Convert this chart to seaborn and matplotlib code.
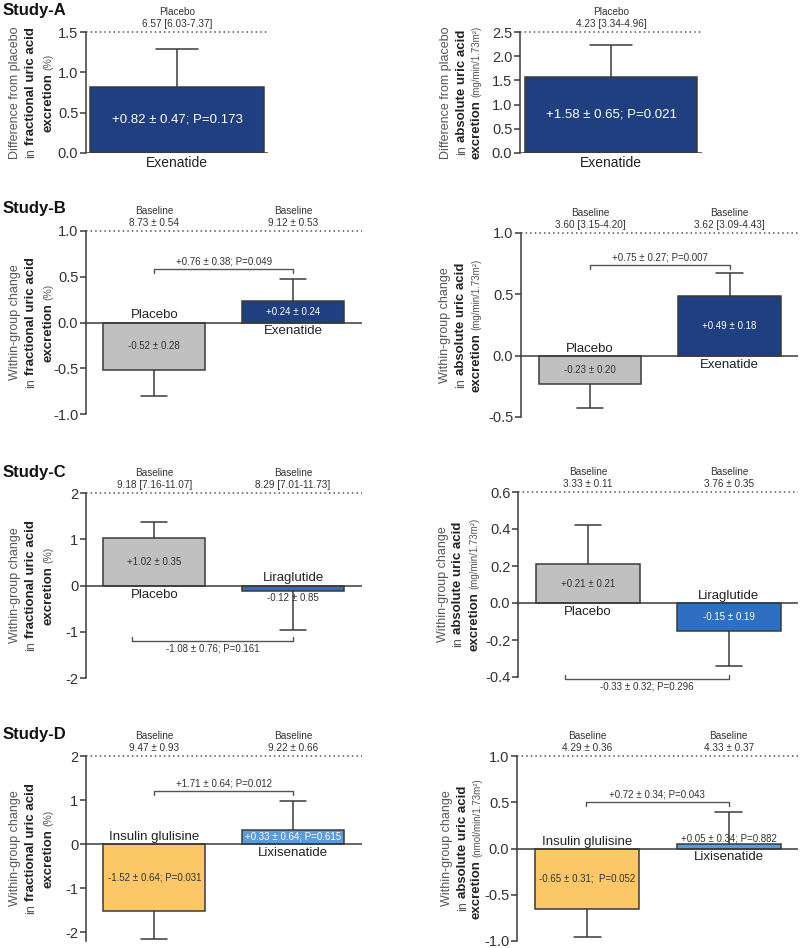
import matplotlib
matplotlib.use("Agg")
import matplotlib.pyplot as plt
import seaborn as sns
import pandas as pd

# ---------------- data ----------------
study_titles = ["Study-A", "Study-B", "Study-C", "Study-D"]

a_cats = ["Exenatide"]
a_frac_vals = [0.82]
a_frac_se = [0.47]
a_frac_head = ["Placebo\n6.57 [6.03-7.37]"]
a_frac_text = ["+0.82 ± 0.47; P=0.173"]
a_abs_vals = [1.58]
a_abs_se = [0.65]
a_abs_head = ["Placebo\n4.23 [3.34-4.96]"]
a_abs_text = ["+1.58 ± 0.65; P=0.021"]

b_cats = ["Placebo", "Exenatide"]
b_frac_vals = [-0.52, 0.24]
b_frac_se = [0.28, 0.24]
b_frac_head = ["Baseline\n8.73 ± 0.54", "Baseline\n9.12 ± 0.53"]
b_frac_text = ["-0.52 ± 0.28", "+0.24 ± 0.24"]
b_frac_diff = "+0.76 ± 0.38; P=0.049"
b_abs_vals = [-0.23, 0.49]
b_abs_se = [0.20, 0.18]
b_abs_head = ["Baseline\n3.60 [3.15-4.20]", "Baseline\n3.62 [3.09-4.43]"]
b_abs_text = ["-0.23 ± 0.20", "+0.49 ± 0.18"]
b_abs_diff = "+0.75 ± 0.27; P=0.007"

c_cats = ["Placebo", "Liraglutide"]
c_frac_vals = [1.02, -0.12]
c_frac_se = [0.35, 0.85]
c_frac_head = ["Baseline\n9.18 [7.16-11.07]", "Baseline\n8.29 [7.01-11.73]"]
c_frac_text = ["+1.02 ± 0.35", "-0.12 ± 0.85"]
c_frac_diff = "-1.08 ± 0.76; P=0.161"
c_abs_vals = [0.21, -0.15]
c_abs_se = [0.21, 0.19]
c_abs_head = ["Baseline\n3.33 ± 0.11", "Baseline\n3.76 ± 0.35"]
c_abs_text = ["+0.21 ± 0.21", "-0.15 ± 0.19"]
c_abs_diff = "-0.33 ± 0.32; P=0.296"

d_cats = ["Insulin glulisine", "Lixisenatide"]
d_frac_vals = [-1.52, 0.33]
d_frac_se = [0.64, 0.64]
d_frac_head = ["Baseline\n9.47 ± 0.93", "Baseline\n9.22 ± 0.66"]
d_frac_text = ["-1.52 ± 0.64; P=0.031", "+0.33 ± 0.64; P=0.615"]
d_frac_diff = "+1.71 ± 0.64; P=0.012"
d_abs_vals = [-0.65, 0.05]
d_abs_se = [0.31, 0.34]
d_abs_head = ["Baseline\n4.29 ± 0.36", "Baseline\n4.33 ± 0.37"]
d_abs_text = ["-0.65 ± 0.31;  P=0.052", "+0.05 ± 0.34; P=0.882"]
d_abs_diff = "+0.72 ± 0.34; P=0.043"

ylab_frac_diff = [[("Difference from placebo", "normal", 9)],
                  [("in", "normal", 9), ("fractional uric acid", "bold", 9.5)],
                  [("excretion", "bold", 9.5), ("(%)", "normal", 7.5)]]
ylab_abs_diff = [[("Difference from placebo", "normal", 9)],
                 [("in", "normal", 9), ("absolute uric acid", "bold", 9.5)],
                 [("excretion", "bold", 9.5), ("(mg/min/1.73m²)", "normal", 7)]]
ylab_frac_within = [[("Within-group change", "normal", 9)],
                    [("in", "normal", 9), ("fractional uric acid", "bold", 9.5)],
                    [("excretion", "bold", 9.5), ("(%)", "normal", 7.5)]]
ylab_abs_within = [[("Within-group change", "normal", 9)],
                   [("in", "normal", 9), ("absolute uric acid", "bold", 9.5)],
                   [("excretion", "bold", 9.5), ("(mg/min/1.73m²)", "normal", 7)]]
ylab_abs_within_d = [[("Within-group change", "normal", 9)],
                     [("in", "normal", 9), ("absolute uric acid", "bold", 9.5)],
                     [("excretion", "bold", 9.5), ("(nmol/min/1.73m²)", "normal", 7)]]

# ---------------- style ----------------
NAVY = "#1f3f80"
GRAY = "#c0c0c0"
BLUE = "#2e6fc2"
LBLUE = "#5b9bd8"
ORANGE = "#fbc767"
EDGE = "#3a3a3a"
TXT = "#333333"

sns.set_theme(style="white")
plt.rcParams['font.family'] = ['Liberation Sans', 'DejaVu Sans']
plt.rcParams['axes.unicode_minus'] = False

W, H = 800, 948
fig = plt.figure(figsize=(W / 100, H / 100), dpi=100)
renderer = fig.canvas.get_renderer()


def add_ax(l, t, r, b):
    return fig.add_axes([l / W, 1 - b / H, (r - l) / W, (b - t) / H])


def ylabel(lines, xs, yc):
    for pieces, x in zip(lines, xs):
        texts = []
        for s, weight, size in pieces:
            col = "#222222" if weight == "bold" else "#555555"
            t = fig.text(x / W, 0.5, s, rotation=90, rotation_mode='anchor',
                         ha='left', va='center', fontsize=size,
                         fontweight=weight, color=col)
            texts.append(t)
        lengths = [t.get_window_extent(renderer).height for t in texts]
        gap = 3
        total = sum(lengths) + gap * (len(texts) - 1)
        start = (H - yc) - total / 2
        for t, ln in zip(texts, lengths):
            t.set_position((x / W, start / H))
            start += ln + gap


def panel(rect, cats, vals, ses, colors, ylim, yticks, fmt, heads, texts,
          modes, tcolors, tsize, xlim, width, cap, ylab, ylab_x,
          diff=None, bracket=None, single=False):
    l, t, r, b = rect
    ax = add_ax(l, t, r, b)
    df = pd.DataFrame({"group": cats, "value": vals})
    sns.barplot(data=df, x="group", y="value", hue="group",
                palette=dict(zip(cats, colors)), width=width, saturation=1,
                edgecolor=EDGE, linewidth=1.1, legend=False, ax=ax)
    ax.set_xlim(*xlim)
    ax.set_ylim(*ylim)
    ax.set_xlabel("")
    ax.set_ylabel("")
    ax.set_xticks([])
    ax.set_yticks(yticks)
    ax.set_yticklabels([fmt.format(v) for v in yticks], fontsize=10.5, color=TXT)
    ax.tick_params(axis='y', direction='out', length=4, width=1.1, color=EDGE, pad=1.5, left=True)
    for s in ["top", "right", "bottom"]:
        ax.spines[s].set_visible(False)
    ax.spines["left"].set_color(EDGE)
    ax.spines["left"].set_linewidth(1.1)
    ax.axhline(0, color=EDGE, lw=1.1, zorder=3)
    ax.axhline(ylim[1], color="#555555", lw=1.1, ls=(0, (1, 2)), zorder=3, clip_on=False)
    ax.set_facecolor("none")
    ppu = (b - t) / (ylim[1] - ylim[0])

    for i, (v, s) in enumerate(zip(vals, ses)):
        end = v + s if v >= 0 else v - s
        ax.plot([i, i], [v, end], color=EDGE, lw=1.1, solid_capstyle='butt', zorder=2, clip_on=False)
        ax.plot([i - cap, i + cap], [end, end], color=EDGE, lw=1.1, zorder=2, clip_on=False)
        # value label
        if modes[i] == "mid":
            ax.text(i, v / 2, texts[i], ha='center', va='center', fontsize=tsize, color=tcolors[i], zorder=4)
        elif modes[i] == "below":
            ax.annotate(texts[i], (i, v), xytext=(0, -2), textcoords='offset pixels',
                        ha='center', va='top', fontsize=tsize, color=tcolors[i], zorder=4)
        else:
            ax.annotate(texts[i], (i, v), xytext=(0, 0), textcoords='offset pixels',
                        ha='center', va='bottom', fontsize=tsize, color=tcolors[i], zorder=4)
        # category name
        if single:
            ax.annotate(cats[i], (i, 0), xytext=(0, -3), textcoords='offset pixels',
                        ha='center', va='top', fontsize=10, color="#222222", annotation_clip=False)
        elif v < 0:
            ax.annotate(cats[i], (i, 0), xytext=(0, 1), textcoords='offset pixels',
                        ha='center', va='bottom', fontsize=9.5, color="#222222")
        else:
            ax.annotate(cats[i], (i, 0), xytext=(0, -3), textcoords='offset pixels',
                        ha='center', va='top', fontsize=9.5, color="#222222")
        # header
        ax.annotate(heads[i], (i, ylim[1]), xytext=(0, 3), textcoords='offset pixels',
                    ha='center', va='bottom', fontsize=7.2, color=TXT, linespacing=1.25,
                    annotation_clip=False)

    if bracket is not None:
        x0, x1, yb, direction = bracket
        d = 4 / ppu * direction
        ax.plot([x0, x0, x1, x1], [yb + d, yb, yb, yb + d], color="#555555", lw=1.0, clip_on=False)
        if direction < 0:
            ax.annotate(diff, ((x0 + x1) / 2, yb), xytext=(0, 2.5), textcoords='offset pixels',
                        ha='center', va='bottom', fontsize=7, color=TXT, annotation_clip=False)
        else:
            ax.annotate(diff, ((x0 + x1) / 2, yb), xytext=(0, -2.5), textcoords='offset pixels',
                        ha='center', va='top', fontsize=7, color=TXT, annotation_clip=False)

    ylabel(ylab, ylab_x, (t + b) / 2)
    return ax


BW = 0.734
XL = (-0.492, 1.497)
XR = (-0.496, 1.49)
CAP = 0.095

# Study A
panel((86, 32, 268, 153), a_cats, a_frac_vals, a_frac_se, [NAVY], (0, 1.5),
      [0, 0.5, 1.0, 1.5], "{:.1f}", a_frac_head, a_frac_text, ["mid"], ["white"], 9.5,
      (-0.5, 0.5), 0.956, 0.115, ylab_frac_diff, [15, 31, 48], single=True)
panel((520, 32, 702, 153), a_cats, a_abs_vals, a_abs_se, [NAVY], (0, 2.5),
      [0, 0.5, 1.0, 1.5, 2.0, 2.5], "{:.1f}", a_abs_head, a_abs_text, ["mid"], ["white"], 9.5,
      (-0.5, 0.5), 0.945, 0.115, ylab_abs_diff, [446, 462, 476], single=True)

# Study B
panel((86, 231, 362, 414), b_cats, b_frac_vals, b_frac_se, [GRAY, NAVY], (-1, 1),
      [-1.0, -0.5, 0.0, 0.5, 1.0], "{:.1f}", b_frac_head, b_frac_text, ["mid", "mid"],
      [TXT, "white"], 7, XL, BW, CAP, ylab_frac_within, [15, 31, 48],
      diff=b_frac_diff, bracket=(0.0, 1.0, 0.59, -1))
panel((521, 233, 798, 417), b_cats, b_abs_vals, b_abs_se, [GRAY, NAVY], (-0.5, 1),
      [-0.5, 0.0, 0.5, 1.0], "{:.1f}", b_abs_head, b_abs_text, ["mid", "mid"],
      [TXT, "white"], 7, XR, BW, CAP, ylab_abs_within, [445, 461, 476],
      diff=b_abs_diff, bracket=(0.0, 1.0, 0.74, -1))

# Study C
panel((86, 493, 362, 678), c_cats, c_frac_vals, c_frac_se, [GRAY, BLUE], (-2, 2),
      [-2, -1, 0, 1, 2], "{:.0f}", c_frac_head, c_frac_text, ["mid", "below"],
      [TXT, TXT], 7, XL, BW, CAP, ylab_frac_within, [15, 31, 48],
      diff=c_frac_diff, bracket=(-0.16, 1.0, -1.2, 1))
panel((518, 492, 798, 677), c_cats, c_abs_vals, c_abs_se, [GRAY, BLUE], (-0.4, 0.6),
      [-0.4, -0.2, 0.0, 0.2, 0.4, 0.6], "{:.1f}", c_abs_head, c_abs_text, ["mid", "mid"],
      [TXT, "white"], 7, XR, BW, CAP, ylab_abs_within, [443, 458, 474],
      diff=c_abs_diff, bracket=(-0.165, 1.0, -0.41, 1))

# Study D
panel((86, 756, 362, 941), d_cats, d_frac_vals, d_frac_se, [ORANGE, LBLUE], (-2.2, 2),
      [-2, -1, 0, 1, 2], "{:.0f}", d_frac_head, d_frac_text, ["mid", "mid"],
      [TXT, "white"], 7, XL, BW, CAP, ylab_frac_within, [15, 31, 48],
      diff=d_frac_diff, bracket=(0.0, 1.0, 1.21, -1))
panel((517, 756, 798, 941), d_cats, d_abs_vals, d_abs_se, [ORANGE, LBLUE], (-1, 1),
      [-1.0, -0.5, 0.0, 0.5, 1.0], "{:.1f}", d_abs_head, d_abs_text, ["mid", "above"],
      [TXT, TXT], 7, XR, BW, CAP, ylab_abs_within_d, [447, 463, 477],
      diff=d_abs_diff, bracket=(-0.01, 1.0, 0.50, -1))

for title, yc in zip(study_titles, [10, 209, 472, 735]):
    fig.text(3 / W, 1 - yc / H, title, fontsize=12, fontweight='bold', va='center', ha='left', color="#111111")

fig.savefig("out.png", dpi=100)
